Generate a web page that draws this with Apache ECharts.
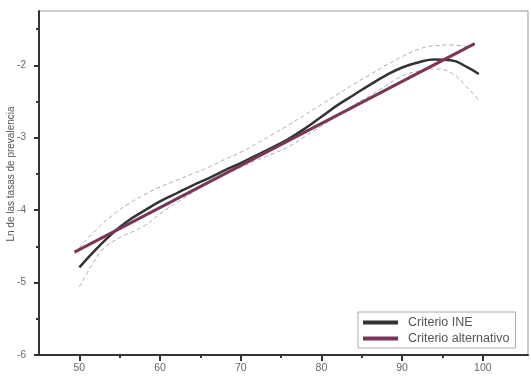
<!DOCTYPE html>
<html><head><meta charset="utf-8">
<script src="https://cdn.jsdelivr.net/npm/echarts@6/dist/echarts.min.js"></script>
<style>html,body{margin:0;padding:0;background:#fff}#c{width:531px;height:378px}</style>
</head><body><div id="c"></div>
<script>
var ineAges = [50,52,54,56,58,60,62,64,66,68,70,72,74,76,78,80,82,84,86,88,90,92,94,96,98,99.5];
var ineValues = [-4.79,-4.55,-4.33,-4.15,-4.01,-3.88,-3.77,-3.66,-3.56,-3.45,-3.35,-3.24,-3.13,-3.01,-2.87,-2.71,-2.55,-2.41,-2.27,-2.14,-2.03,-1.96,-1.92,-1.93,-2.02,-2.12];
var upperAges = [50,52,54,56,58,60,62,64,66,68,70,72,74,76,78,80,82,84,86,88,90,92,94,96,98];
var upperValues = [-4.52,-4.28,-4.08,-3.92,-3.79,-3.68,-3.59,-3.50,-3.41,-3.30,-3.20,-3.08,-2.95,-2.82,-2.68,-2.54,-2.40,-2.26,-2.13,-2.00,-1.88,-1.78,-1.73,-1.72,-1.74];
var lowerAges = [50,51,52,53,55,58,60,62,64,66,68,70,72,74,76,78,80,82,84,86,88,90,92,94,96,98,99.5];
var lowerValues = [-5.06,-4.86,-4.68,-4.53,-4.38,-4.22,-4.05,-3.90,-3.76,-3.62,-3.51,-3.41,-3.31,-3.22,-3.12,-2.98,-2.84,-2.70,-2.55,-2.42,-2.28,-2.15,-2.08,-2.05,-2.10,-2.30,-2.48];
var altAges = [49.4, 99];
var altValues = [-4.58, -1.70];
var xTicks = [50,60,70,80,90,100];
var xMinorTicks = [55,65,75,85,95];
var yTicks = [-6,-5,-4,-3,-2];
var yMinorTicks = [-5.5,-4.5,-3.5,-2.5,-1.5];
var seriesNames = ['Criterio INE','Criterio alternativo'];
var yTitle = 'Ln de las tasas de prevalencia';

function zip(a,b){return a.map(function(v,i){return [v,b[i]];});}
var chart = echarts.init(document.getElementById('c'), null, {renderer:'canvas'});
var labelStyle = {color:'#666', fontSize:10, fontFamily:'Liberation Sans, Arial, sans-serif'};
chart.setOption({
  animation:false,
  grid:{left:39, top:11, right:3, bottom:23, show:true, borderColor:'#999', borderWidth:1, containLabel:false, outerBoundsMode:'none'},
  legend:{
    data:seriesNames, orient:'vertical', left:358, top:312,
    itemWidth:35, itemHeight:4, itemGap:3, icon:'rect',
    padding:[4,6,3,5], borderColor:'#aaa', borderWidth:1, backgroundColor:'#fff',
    textStyle:{color:'#555', fontSize:12.5, fontFamily:'Liberation Sans, Arial, sans-serif', padding:[0,0,0,5]}
  },
  xAxis:[{
    type:'value', min:45, max:105.6,
    axisLine:{show:true, onZero:false, lineStyle:{color:'#333', width:2}},
    axisTick:{show:true, customValues:xTicks, length:6, lineStyle:{color:'#333', width:2}},
    axisLabel:{show:true, customValues:xTicks, margin:8, color:labelStyle.color, fontSize:10.5, fontFamily:labelStyle.fontFamily},
    splitLine:{show:false}
  },{
    type:'value', min:45, max:105.6, position:'bottom',
    axisLine:{show:false},
    axisTick:{show:true, customValues:xMinorTicks, length:3, lineStyle:{color:'#333', width:2}},
    axisLabel:{show:false}, splitLine:{show:false}
  }],
  yAxis:[{
    type:'value', min:-6, max:-1.25,
    name:yTitle, nameLocation:'middle', nameRotate:90, nameGap:23, nameMoveOverlap:false,
    nameTextStyle:{color:'#555', fontSize:10, fontFamily:labelStyle.fontFamily, padding:[0,0,0,18]},
    axisLine:{show:true, onZero:false, lineStyle:{color:'#333', width:2}},
    axisTick:{show:true, customValues:yTicks, length:5, lineStyle:{color:'#333', width:2}},
    axisLabel:{show:true, customValues:yTicks, margin:13, color:labelStyle.color, fontSize:10, fontFamily:labelStyle.fontFamily},
    splitLine:{show:false}
  },{
    type:'value', min:-6, max:-1.25, position:'left',
    axisLine:{show:false},
    axisTick:{show:true, customValues:yMinorTicks, length:3, lineStyle:{color:'#333', width:2}},
    axisLabel:{show:false}, splitLine:{show:false}
  }],
  series:[
    {name:'upper', type:'line', smooth:true, symbol:'none', data:zip(upperAges,upperValues),
     lineStyle:{color:'#aaa', width:1, type:[4,3]}, silent:true, z:1},
    {name:'lower', type:'line', smooth:true, symbol:'none', data:zip(lowerAges,lowerValues),
     lineStyle:{color:'#aaa', width:1, type:[4,3]}, silent:true, z:1},
    {name:seriesNames[0], type:'line', smooth:true, symbol:'none', data:zip(ineAges,ineValues),
     itemStyle:{color:'#333'}, lineStyle:{color:'#333', width:2.5}, z:2},
    {name:seriesNames[1], type:'line', symbol:'none', data:zip(altAges,altValues),
     itemStyle:{color:'#7b3558'}, lineStyle:{color:'#7b3558', width:3}, z:3}
  ]
});
</script></body></html>
